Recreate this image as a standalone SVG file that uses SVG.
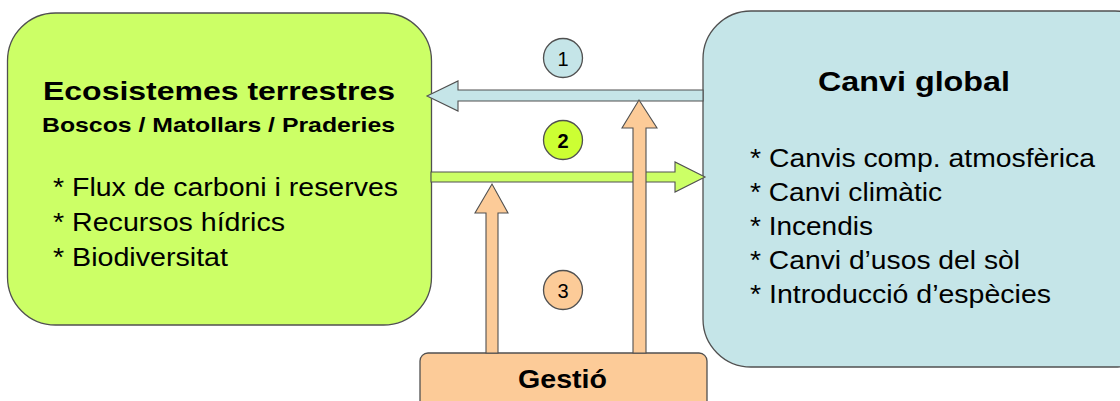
<svg xmlns="http://www.w3.org/2000/svg" width="1120" height="401" viewBox="0 0 1120 401">
<style>
.box{stroke:#505050;stroke-width:1.3}
.green{fill:#ccff66}
.blue{fill:#c5e5e8}
.orange{fill:#fccb98}
.arr{stroke:#505050;stroke-width:1.1;stroke-linejoin:miter}
text{font-family:"Liberation Sans",Arial,sans-serif;fill:#000}
.b{font-weight:bold}
.t{font-size:25px}
</style>
<rect width="1120" height="401" fill="#fff"/>
<g id="ecosistemes">
<rect class="box green" x="7.5" y="13" width="424" height="312" rx="48" ry="48"/>
<text class="b" x="43" y="100" font-size="26.5" textLength="352" lengthAdjust="spacingAndGlyphs">Ecosistemes terrestres</text>
<text class="b" x="42" y="132" font-size="21" textLength="353" lengthAdjust="spacingAndGlyphs">Boscos / Matollars / Praderies</text>
<text class="t" x="53" y="196" textLength="345" lengthAdjust="spacingAndGlyphs">* Flux de carboni i reserves</text>
<text class="t" x="53" y="231" textLength="232" lengthAdjust="spacingAndGlyphs">* Recursos hídrics</text>
<text class="t" x="53" y="266" textLength="175" lengthAdjust="spacingAndGlyphs">* Biodiversitat</text>
</g>
<g id="canvi">
<rect class="box blue" x="703" y="11" width="460" height="356" rx="48" ry="48"/>
<text class="b" x="818" y="91" font-size="28" textLength="192" lengthAdjust="spacingAndGlyphs">Canvi global</text>
<text class="t" x="750" y="167" textLength="345" lengthAdjust="spacingAndGlyphs">* Canvis comp. atmosfèrica</text>
<text class="t" x="750" y="201" textLength="192" lengthAdjust="spacingAndGlyphs">* Canvi climàtic</text>
<text class="t" x="750" y="235" textLength="123" lengthAdjust="spacingAndGlyphs">* Incendis</text>
<text class="t" x="750" y="269" textLength="270" lengthAdjust="spacingAndGlyphs">* Canvi d’usos del sòl</text>
<text class="t" x="750" y="303" textLength="301" lengthAdjust="spacingAndGlyphs">* Introducció d’espècies</text>
</g>
<g id="gestio">
<rect class="box orange" x="420" y="353" width="287" height="70" rx="8" ry="8"/>
<text class="b" x="518" y="388" font-size="26" textLength="89" lengthAdjust="spacingAndGlyphs">Gestió</text>
</g>
<g id="connectors">
<polygon class="arr blue" points="703,90 458,90 458,81 427,96 458,111 458,101 703,101"/>
<polygon class="arr green" points="431,172 675,172 675,162 705,177 675,192 675,182 431,182"/>
<polygon class="arr orange" points="486,353 486,213 475,213 492,184 508,213 498,213 498,353"/>
<polygon class="arr orange" points="633,353 633,128 622,128 639,100 657,128 646,128 646,353"/>
</g>
<g id="labels">
<circle class="box blue" cx="563" cy="58" r="19.5"/>
<text x="563" y="65.5" font-size="20" text-anchor="middle">1</text>
<circle class="box" cx="563" cy="140" r="19.5" fill="#ccff33"/>
<text class="b" x="563" y="147.5" font-size="20" text-anchor="middle">2</text>
<circle class="box orange" cx="563" cy="290" r="19.5"/>
<text x="563" y="297.5" font-size="20" text-anchor="middle">3</text>
</g>
</svg>
